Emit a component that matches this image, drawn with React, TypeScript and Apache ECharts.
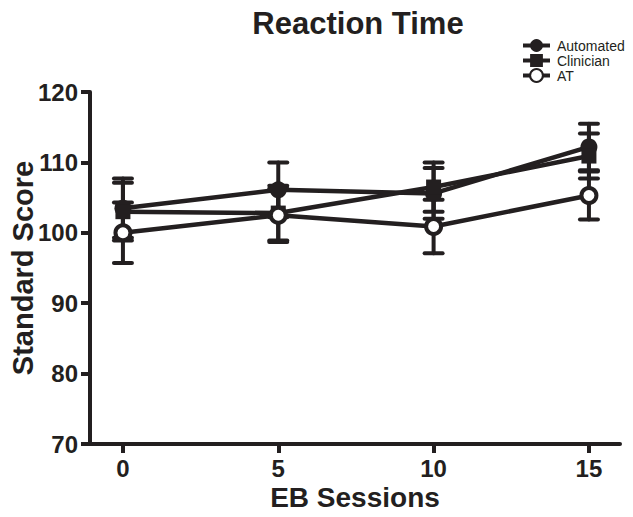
import React, { useEffect, useRef } from "react";
import * as echarts from "echarts";

const sessions = [0, 5, 10, 15];
const automated = [103.5, 106.1, 105.6, 112.2];
const automatedErr = [4.2, 3.9, 3.6, 3.3];
const clinician = [103.0, 102.8, 106.5, 110.9];
const clinicianErr = [4.1, 3.9, 3.5, 3.2];
const atScores = [100.0, 102.5, 100.9, 105.3];
const atErr = [4.3, 3.8, 3.8, 3.4];
const xTicks = [0, 5, 10, 15];

const INK = "#231f20";
const FONT = "'Liberation Sans', Arial, Helvetica, sans-serif";

function errorSeries(name: string, vals: number[], errs: number[]) {
  const data = sessions.map((s, i) => [s, vals[i] - errs[i], vals[i] + errs[i]]);
  return {
    type: "custom",
    name: name + "-err",
    data,
    z: 1,
    silent: true,
    renderItem: (params: any, api: any) => {
      const x = api.value(0);
      const lo = api.coord([x, api.value(1)]);
      const hi = api.coord([x, api.value(2)]);
      const w = 9;
      const style = { stroke: INK, lineWidth: 4, lineCap: "round" };
      return {
        type: "group",
        children: [
          { type: "line", shape: { x1: lo[0], y1: lo[1], x2: hi[0], y2: hi[1] }, style },
          { type: "line", shape: { x1: hi[0] - w, y1: hi[1], x2: hi[0] + w, y2: hi[1] }, style },
          { type: "line", shape: { x1: lo[0] - w, y1: lo[1], x2: lo[0] + w, y2: lo[1] }, style },
        ],
      };
    },
  };
}

export default function App() {
  const ref = useRef<HTMLDivElement>(null);
  useEffect(() => {
    if (!ref.current) return;
    const chart = echarts.init(ref.current, null, { renderer: "svg" });
    const lineSeries = (name: string, vals: number[], symbol: string, size: number, fill: string, border: number) => ({
      type: "line",
      name,
      data: sessions.map((s, i) => [s, vals[i]]),
      symbol,
      symbolSize: size,
      showSymbol: true,
      z: 3,
      lineStyle: { color: INK, width: 4.5 },
      itemStyle: { color: fill, borderColor: INK, borderWidth: border },
      emphasis: { disabled: true },
    });
    chart.setOption({
      animation: false,
      backgroundColor: "#ffffff",
      textStyle: { fontFamily: FONT, color: INK },
      graphic: [
        {
          type: "text",
          x: 358,
          y: 8,
          style: {
            text: "Reaction Time",
            font: `bold 31px ${FONT}`,
            fill: INK,
            textAlign: "center",
            textVerticalAlign: "top",
          },
        },
      ],
      legend: {
        orient: "vertical",
        left: 521,
        top: 38,
        padding: 0,
        itemWidth: 27,
        itemHeight: 16,
        itemGap: 0,
        lineStyle: { width: 4, color: INK },
        data: ["Automated", "Clinician", "AT"],
        textStyle: { fontFamily: FONT, fontSize: 14, lineHeight: 15, color: INK, padding: [0, 0, 0, 2] },
      },
      grid: { left: 90, right: 13, top: 92, bottom: 73, containLabel: false, outerBoundsMode: "none" },
      xAxis: {
        type: "value",
        min: -1.06,
        max: 16,
        name: "EB Sessions",
        nameLocation: "middle",
        nameGap: 40,
        nameMoveOverlap: false,
        nameTextStyle: { fontFamily: FONT, fontSize: 28, lineHeight: 26, fontWeight: "bold", color: INK },
        axisLine: { show: true, onZero: false, lineStyle: { color: INK, width: 4 } },
        axisTick: { show: true, length: 9, lineStyle: { color: INK, width: 4 }, customValues: xTicks },
        axisLabel: {
          margin: 14,
          fontFamily: FONT,
          fontSize: 24,
          lineHeight: 20,
          fontWeight: "bold",
          color: INK,
          customValues: xTicks,
        },
        splitLine: { show: false },
      },
      yAxis: {
        type: "value",
        min: 70,
        max: 120,
        interval: 10,
        name: "Standard Score",
        nameLocation: "middle",
        nameGap: 53,
        nameMoveOverlap: false,
        nameTextStyle: { fontFamily: FONT, fontSize: 29, fontWeight: "bold", color: INK },
        axisLine: { show: true, onZero: false, lineStyle: { color: INK, width: 4 } },
        axisTick: { show: true, length: 9, lineStyle: { color: INK, width: 4 } },
        axisLabel: { margin: 12, fontFamily: FONT, fontSize: 24, fontWeight: "bold", color: INK },
        splitLine: { show: false },
      },
      series: [
        errorSeries("Automated", automated, automatedErr),
        errorSeries("Clinician", clinician, clinicianErr),
        errorSeries("AT", atScores, atErr),
        lineSeries("Automated", automated, "circle", 17, INK, 0),
        lineSeries("Clinician", clinician, "rect", 15, INK, 0),
        lineSeries("AT", atScores, "circle", 15, "#ffffff", 4),
      ],
    });
    return () => chart.dispose();
  }, []);
  return (
    <div
      ref={ref}
      style={{ position: "fixed", left: 0, top: 0, width: 633, height: 517, background: "#fff" }}
    />
  );
}
